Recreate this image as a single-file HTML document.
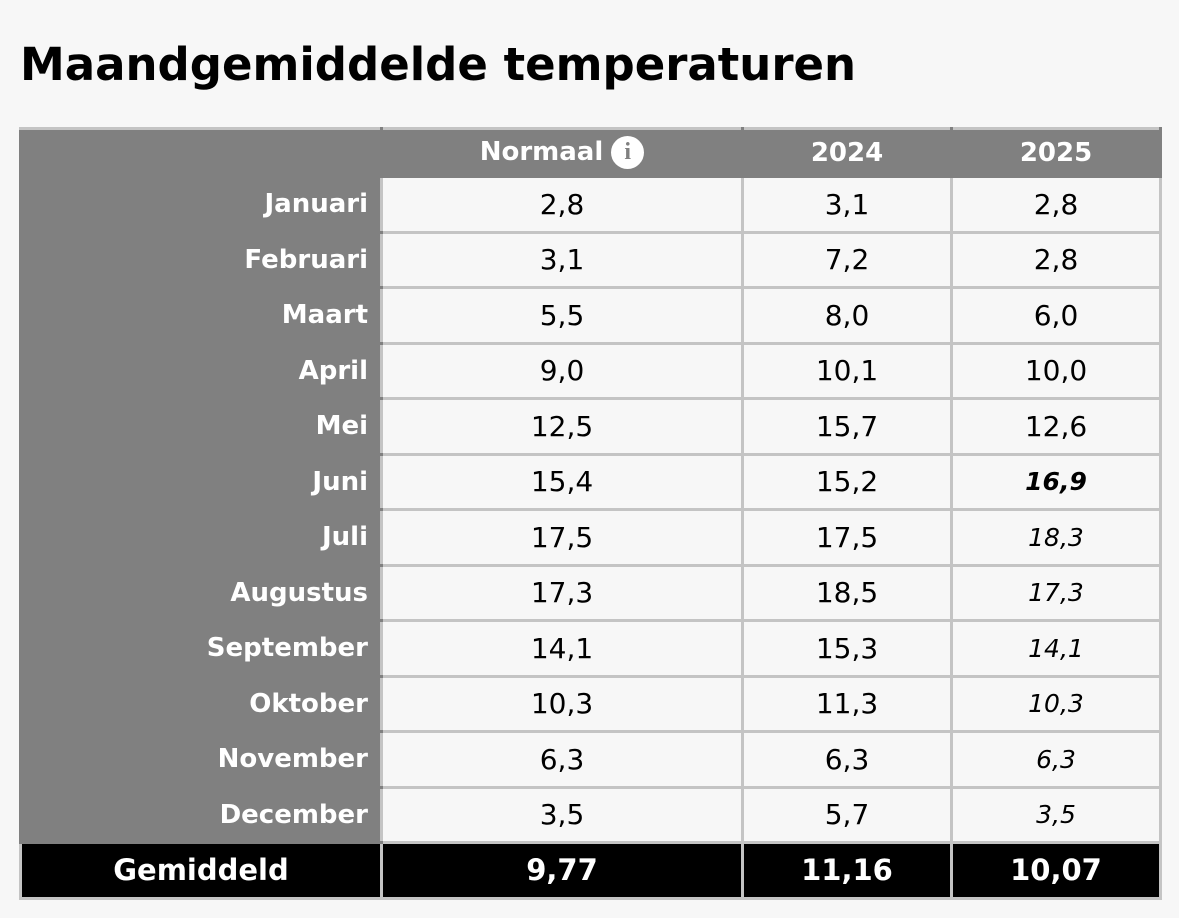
<!DOCTYPE html>
<html><head><meta charset="utf-8"><style>
body{margin:0;width:1179px;height:918px;background:#f7f7f7;font-family:"DejaVu Sans","Liberation Sans",sans-serif;position:relative;overflow:hidden}
h1{position:absolute;left:20px;top:36px;margin:0;font-size:45px;font-weight:bold;color:#000;line-height:58px}
table{position:absolute;left:19px;top:127px;border-collapse:collapse;table-layout:fixed}
td{border:3px solid #c4c4c4;height:52.5px;padding:0;text-align:center;font-size:28px;color:#000;background:#f7f7f7}
td.l{background:#808080;color:#fff;font-weight:bold;text-align:right;padding-right:12px;font-size:26px;border-color:#808080;border-right-color:#c4c4c4}
tr.h td{background:#808080;color:#fff;font-weight:bold;height:45px;font-size:26px;border-color:#808080;border-top-color:#c4c4c4}
tr.f td{background:#000;color:#fff;font-weight:bold;font-size:29px;text-align:center;padding:0}
td.i{font-style:italic;font-size:25px}
.info{display:inline-block;width:33px;height:33px;border-radius:50%;background:#fff;color:#808080;font-size:24px;line-height:33px;text-align:center;vertical-align:middle;margin-left:8px;font-family:"Liberation Serif",serif;font-weight:bold}
</style></head><body>
<h1>Maandgemiddelde temperaturen</h1>
<table>
<colgroup><col style="width:361px"><col style="width:361px"><col style="width:209px"><col style="width:209px"></colgroup>
<tr class="h"><td></td><td>Normaal<span class="info">i</span></td><td>2024</td><td>2025</td></tr>
<tr><td class="l">Januari</td><td>2,8</td><td>3,1</td><td>2,8</td></tr>
<tr><td class="l">Februari</td><td>3,1</td><td>7,2</td><td>2,8</td></tr>
<tr><td class="l">Maart</td><td>5,5</td><td>8,0</td><td>6,0</td></tr>
<tr><td class="l">April</td><td>9,0</td><td>10,1</td><td>10,0</td></tr>
<tr><td class="l">Mei</td><td>12,5</td><td>15,7</td><td>12,6</td></tr>
<tr><td class="l">Juni</td><td>15,4</td><td>15,2</td><td class="i" style="font-weight:bold">16,9</td></tr>
<tr><td class="l">Juli</td><td>17,5</td><td>17,5</td><td class="i">18,3</td></tr>
<tr><td class="l">Augustus</td><td>17,3</td><td>18,5</td><td class="i">17,3</td></tr>
<tr><td class="l">September</td><td>14,1</td><td>15,3</td><td class="i">14,1</td></tr>
<tr><td class="l">Oktober</td><td>10,3</td><td>11,3</td><td class="i">10,3</td></tr>
<tr><td class="l">November</td><td>6,3</td><td>6,3</td><td class="i">6,3</td></tr>
<tr><td class="l">December</td><td>3,5</td><td>5,7</td><td class="i">3,5</td></tr>
<tr class="f"><td>Gemiddeld</td><td>9,77</td><td>11,16</td><td>10,07</td></tr>
</table>
</body></html>
